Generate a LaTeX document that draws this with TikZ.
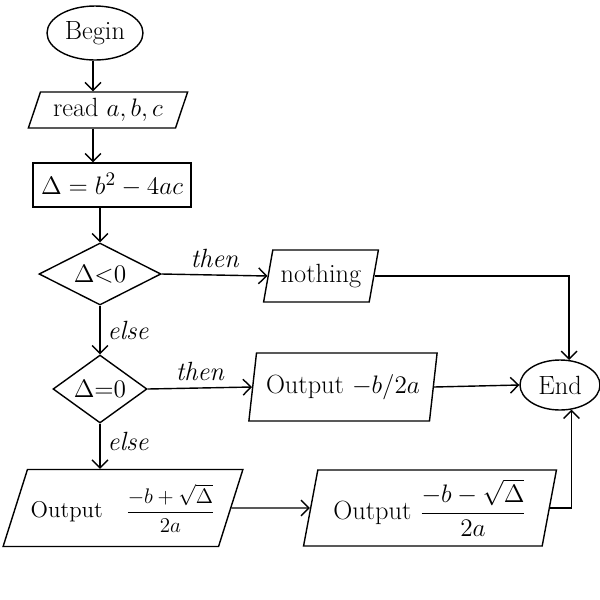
\documentclass[tikz,border=0pt]{standalone}
\usetikzlibrary{shapes.geometric,arrows.meta}
\begin{document}
\begin{tikzpicture}[x=0.02cm,y=-0.02cm,
  every node/.style={font=\fontsize{15}{18}\selectfont, inner sep=1pt},
  lw/.style={line width=0.8pt},
  term/.style={lw, draw, ellipse, inner sep=0pt},
  io/.style={lw, draw, trapezium, trapezium stretches=true, inner sep=0pt},
  proc/.style={lw, draw, rectangle, inner sep=0pt},
  decide/.style={lw, draw, diamond, inner sep=0pt, aspect=2},
  arr/.style={lw, -{Straight Barb[length=4.5pt,width=9pt]}},
  lbl/.style={font=\fontsize{15}{18}\itshape}
]
\fill[white] (0,0) rectangle (600,600);
\useasboundingbox (0,0) rectangle (600,600);

\node[term, minimum width=1.92cm, minimum height=1.08cm] (begin) at (95,33) {Begin};
\node[io, trapezium left angle=67, trapezium right angle=113, minimum width=3.2cm, minimum height=0.72cm] (read) at (108,110) {read $a,b,c$};
\node[proc, minimum width=3.16cm, minimum height=0.88cm] (delta) at (112,185) {$\Delta=b^2-4ac$};
\node[decide, minimum width=2.44cm, minimum height=1.24cm] (d1) at (100,274) {$\Delta{<}0$};
\node[io, trapezium left angle=72, trapezium right angle=108, minimum width=2.3cm, minimum height=1.04cm] (nothing) at (321,276) {nothing};
\node[decide, minimum width=1.88cm, minimum height=1.36cm] (d2) at (100,389) {$\Delta{=}0$};
\node[io, trapezium left angle=75, trapezium right angle=105, minimum width=3.8cm, minimum height=1.36cm] (out1) at (343,387) {Output $-b/2a$};
\node[term, minimum width=1.6cm, minimum height=1.0cm] (end) at (560,385) {End};
\node[io, trapezium left angle=64, trapezium right angle=116, minimum width=4.8cm, minimum height=1.54cm, font=\fontsize{13}{16}\selectfont] (out2) at (123,508) {Output\enspace\enspace $\displaystyle\frac{-b+\sqrt{\Delta}}{2a}$};
\node[io, trapezium left angle=78, trapezium right angle=102, minimum width=5.06cm, minimum height=1.52cm] (out3) at (430,508) {Output $\displaystyle\frac{-b-\sqrt{\Delta}}{2a}$};

\coordinate (cx) at (93,0);
\draw[arr] (begin.south -| cx) -- (cx |- read.north);
\draw[arr] (read.south -| cx) -- (cx |- delta.north);
\draw[arr] (delta.south -| d1.north) -- (d1.north);
\draw[arr] (d1.south) -- node[lbl, right=3pt] {else} (d2.north);
\draw[arr] (d2.south) -- node[lbl, right=3pt, pos=0.4] {else} (out2.north -| d2.south);
\draw[arr] (d1.east) -- node[lbl, above=3pt] {then} (nothing.west);
\draw[arr] (d2.east) -- node[lbl, above=3pt] {then} (out1.west);
\draw[arr] (out1.east) -- (end.west);
\draw[arr] (out2.east) -- (out3.west);
\draw[arr] (nothing.east) -| (end.70);
\draw[arr] (out3.east) -| (end.-65);
\end{tikzpicture}
\end{document}
